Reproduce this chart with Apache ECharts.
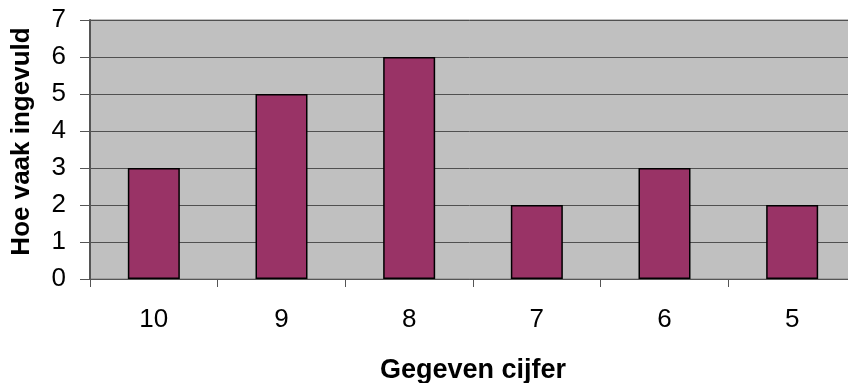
<!DOCTYPE html>
<html>
<head>
<meta charset="utf-8">
<script src="https://cdn.jsdelivr.net/npm/echarts@6/dist/echarts.min.js"></script>
<style>
  html, body { margin: 0; padding: 0; background: #ffffff; }
  #chart { width: 848px; height: 383px; }
</style>
</head>
<body>
<div id="chart"></div>
<script>
// Grades given and how often each was entered
const grades = ['10', '9', '8', '7', '6', '5'];
const counts = [3, 5, 6, 2, 3, 2];
const yTicks = [0, 1, 2, 3, 4, 5, 6, 7];

const chart = echarts.init(document.getElementById('chart'), null, { renderer: 'canvas' });
const font = 'Arial, "Liberation Sans", sans-serif';

chart.setOption({
  animation: false,
  backgroundColor: '#ffffff',
  grid: {
    left: 90, top: 20, right: -8, bottom: 104,
    outerBoundsMode: 'none',
    containLabel: false,
    show: true,
    backgroundColor: '#C0C0C0',
    borderColor: '#808080',
    borderWidth: 1
  },
  xAxis: {
    type: 'category',
    data: grades,
    name: 'Gegeven cijfer',
    nameLocation: 'middle',
    nameGap: 78,
    nameTextStyle: { fontFamily: font, fontSize: 27, fontWeight: 'bold', color: '#000' },
    axisLine: { lineStyle: { color: '#555555', width: 1 } },
    axisTick: { show: true, length: 8, inside: false, lineStyle: { color: '#555555' } },
    axisLabel: { fontFamily: font, fontSize: 26, color: '#000', margin: 28 },
    splitLine: { show: false }
  },
  yAxis: {
    type: 'value',
    min: yTicks[0],
    max: yTicks[yTicks.length - 1],
    interval: 1,
    name: 'Hoe vaak ingevuld',
    nameLocation: 'middle',
    nameRotate: 90,
    nameGap: 55,
    nameTextStyle: { fontFamily: font, fontSize: 26, fontWeight: 'bold', color: '#000', padding: [0, 0, 0, 16] },
    axisLine: { show: true, lineStyle: { color: '#555555', width: 2 } },
    axisTick: { show: true, length: 10, inside: false, lineStyle: { color: '#555555' } },
    axisLabel: { fontFamily: font, fontSize: 26, color: '#000', margin: 24 },
    splitLine: { show: true, lineStyle: { color: '#505050', width: 1 } }
  },
  series: [{
    type: 'bar',
    data: counts,
    barWidth: 52,
    itemStyle: { color: '#993366', borderColor: '#000000', borderWidth: 1.5 }
  }]
});
</script>
</body>
</html>
